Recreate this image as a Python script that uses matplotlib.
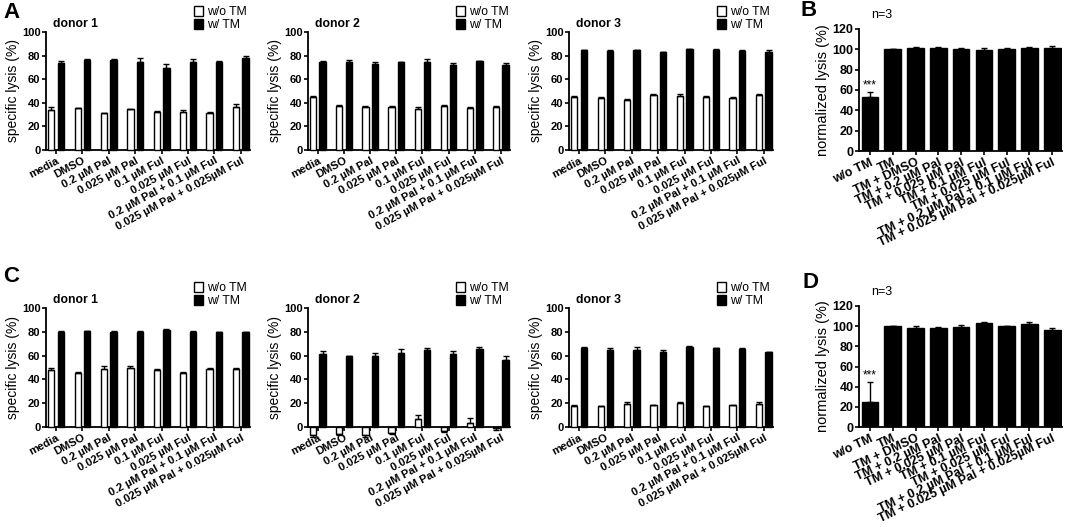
import matplotlib
matplotlib.use("Agg")
import matplotlib.pyplot as plt
import numpy as np

plt.rcParams['font.family'] = ['Liberation Sans', 'DejaVu Sans']

# ---------------- data ----------------
cond_labels = ['media', 'DMSO', '0.2 µM Pal', '0.025 µM Pal', '0.1 µM Ful',
               '0.025 µM Ful', '0.2 µM Pal + 0.1 µM Ful', '0.025 µM Pal + 0.025µM Ful']
norm_labels = ['w/o TM', 'TM', 'TM + DMSO', 'TM + 0.2 µM Pal', 'TM + 0.025 µM Pal',
               'TM + 0.1 µM Ful', 'TM + 0.025 µM Ful', 'TM + 0.2 µM Pal + 0.1 µM Ful',
               'TM + 0.025 µM Pal + 0.025µM Ful']
series_names = ['w/o TM', 'w/ TM']

A1_wo = [33.8, 35.2, 31.0, 34.6, 32.4, 31.8, 31.0, 36.6]
A1_wo_err = [2.5, 0.5, 0.3, 0.3, 0.7, 2.0, 1.0, 2.5]
A1_w = [73.8, 76.0, 76.0, 75.0, 69.3, 75.0, 75.0, 78.0]
A1_w_err = [1.5, 1.5, 1.0, 3.0, 3.5, 2.0, 0.5, 2.0]

A2_wo = [44.5, 37.2, 36.6, 36.6, 34.6, 37.2, 36.0, 36.6]
A2_wo_err = [1.0, 1.0, 0.5, 1.0, 1.5, 1.0, 0.5, 0.5]
A2_w = [74.4, 74.4, 73.2, 74.4, 74.6, 72.4, 75.2, 72.4]
A2_w_err = [1.0, 2.0, 1.0, 0.5, 2.5, 1.5, 0.5, 1.0]

A3_wo = [45.0, 44.2, 42.3, 47.0, 45.9, 45.0, 43.7, 46.2]
A3_wo_err = [1.0, 0.5, 1.0, 0.7, 1.5, 0.5, 1.2, 1.0]
A3_w = [84.5, 84.2, 84.5, 82.8, 85.4, 85.0, 84.2, 83.1]
A3_w_err = [0.5, 0.5, 0.5, 0.5, 0.3, 0.3, 0.3, 1.5]

B_vals = [53.5, 100, 101.5, 101, 100, 99, 100, 101.5, 101]
B_err = [4.5, 0, 1, 1, 1, 2.5, 1, 0.5, 2.5]

C1_wo = [47.6, 45.7, 49.0, 49.6, 48.2, 45.7, 49.0, 48.5]
C1_wo_err = [2.0, 0.3, 2.0, 1.5, 0.7, 0.5, 0.8, 1.5]
C1_w = [79.8, 80.4, 79.8, 79.8, 81.8, 80.1, 79.8, 79.5]
C1_w_err = [0.5, 0.4, 1.0, 1.0, 0.4, 0.4, 0.4, 0.5]

C2_wo = [-7.0, -5.6, -6.5, -5.0, 6.8, -3.0, 3.7, -0.8]
C2_wo_err = [1.5, 1.5, 1.5, 1.0, 3.1, 1.0, 4.2, 1.5]
C2_w = [61.1, 59.7, 60.0, 62.5, 64.5, 61.7, 65.4, 56.6]
C2_w_err = [2.5, 0.3, 2.5, 3.0, 1.5, 2.5, 1.5, 3.0]

C3_wo = [17.7, 17.5, 19.2, 18.3, 20.3, 17.5, 18.3, 19.7]
C3_wo_err = [1.0, 0.5, 1.5, 0.5, 1.0, 0.3, 0.5, 1.0]
C3_w = [66.5, 64.8, 64.8, 63.0, 67.6, 66.2, 65.6, 62.8]
C3_w_err = [0.5, 1.5, 2.5, 2.0, 0.3, 0.5, 1.0, 0.5]

D_vals = [24.8, 100, 98.5, 98.5, 99.5, 103.5, 100.3, 102, 96]
D_err = [20, 0, 1.5, 0.5, 2, 0.7, 0.3, 2.5, 2]

# ---------------- figure ----------------
W, H = 1065, 527
fig = plt.figure(figsize=(W / 100, H / 100), dpi=100)


def add_ax(x0, x1, ytop, ybot):
    return fig.add_axes([x0 / W, 1 - ybot / H, (x1 - x0) / W, (ybot - ytop) / H])


def style(ax, tick_fs):
    for s in ['top', 'right']:
        ax.spines[s].set_visible(False)
    for s in ['left', 'bottom']:
        ax.spines[s].set_linewidth(1.3)
    ax.tick_params(axis='both', direction='out', length=3, width=1.2,
                   labelsize=tick_fs, pad=1)
    for t in ax.get_yticklabels():
        t.set_fontweight('bold')


def err_lohi(vals, errs):
    lo = [e if v < 0 else 0 for v, e in zip(vals, errs)]
    hi = [0 if v < 0 else e for v, e in zip(vals, errs)]
    return [lo, hi]


def donor_panel(x0, x1, ytop, ybot, wo, wo_e, w, w_e, title):
    ax = add_ax(x0, x1, ytop, ybot)
    x = np.arange(len(cond_labels))
    off, bw = 0.18, 0.24
    b1 = ax.bar(x - off, wo, bw, color='white', edgecolor='black', linewidth=1.0,
                yerr=err_lohi(wo, wo_e), capsize=2, clip_on=False,
                error_kw=dict(elinewidth=1.0, capthick=1.0, clip_on=False),
                label=series_names[0], zorder=3)
    b2 = ax.bar(x + off, w, bw, color='black', edgecolor='black', linewidth=1.0,
                yerr=err_lohi(w, w_e), capsize=2, clip_on=False,
                error_kw=dict(elinewidth=1.0, capthick=1.0, clip_on=False),
                label=series_names[1], zorder=3)
    ax.set_xlim(-0.38, 7.35)
    ax.set_ylim(0, 100)
    ax.set_yticks(np.arange(0, 101, 20))
    ax.set_xticks(x)
    ax.set_xticklabels(cond_labels, rotation=28, ha='right', rotation_mode='anchor',
                       fontsize=7.9, fontweight='bold')
    ax.set_ylabel('specific lysis (%)', fontsize=10, labelpad=1.5)
    style(ax, 8)
    fig.text((x0 + 7) / W, 1 - (ytop - 8) / H, title, fontsize=8.8,
             fontweight='bold', va='center', ha='left')
    lx = x0 + 148
    ax.legend(handles=[b1, b2], loc='upper left', frameon=False,
              bbox_to_anchor=(lx / W, 1 - (ytop - 26) / H),
              bbox_transform=fig.transFigure, fontsize=8.8,
              handlelength=0.75, handleheight=0.9, handletextpad=0.35,
              labelspacing=0.05, borderpad=0, borderaxespad=0)
    return ax


def norm_panel(x0, x1, ytop, ybot, vals, errs):
    ax = add_ax(x0, x1, ytop, ybot)
    x = np.arange(len(norm_labels))
    ax.bar(x, vals, 0.73, color='black', edgecolor='black', linewidth=1.0,
           yerr=err_lohi(vals, errs), capsize=2.5,
           error_kw=dict(elinewidth=1.0, capthick=1.0), zorder=3)
    ax.set_xlim(-0.48, 8.43)
    ax.set_ylim(0, 120)
    ax.set_yticks(np.arange(0, 121, 20))
    ax.set_xticks(x)
    ax.set_xticklabels(norm_labels, rotation=25, ha='right', rotation_mode='anchor',
                       fontsize=8.2, fontweight='bold')
    ax.set_ylabel('normalized lysis (%)', fontsize=10.5, labelpad=1.5)
    style(ax, 9)
    ax.text(0, vals[0] + errs[0] + 0.5, '***', ha='center', va='bottom', fontsize=8.5)
    fig.text((x0 + 12) / W, 1 - (ytop - 14) / H, 'n=3', fontsize=9,
             va='center', ha='left')
    return ax


# Panel A
donor_panel(46, 250, 32, 150, A1_wo, A1_wo_err, A1_w, A1_w_err, 'donor 1')
donor_panel(308, 510, 32, 150, A2_wo, A2_wo_err, A2_w, A2_w_err, 'donor 2')
donor_panel(569, 773, 32, 150, A3_wo, A3_wo_err, A3_w, A3_w_err, 'donor 3')
# Panel B
norm_panel(859, 1062, 29, 151, B_vals, B_err)
# Panel C
donor_panel(46, 250, 308, 427, C1_wo, C1_wo_err, C1_w, C1_w_err, 'donor 1')
donor_panel(308, 510, 308, 427, C2_wo, C2_wo_err, C2_w, C2_w_err, 'donor 2')
donor_panel(569, 773, 308, 427, C3_wo, C3_wo_err, C3_w, C3_w_err, 'donor 3')
# Panel D
norm_panel(859, 1062, 306, 427, D_vals, D_err)

# panel letters
for letter, px, py in [('A', 3, 12), ('B', 801, 11), ('C', 3, 277), ('D', 803, 282)]:
    fig.text(px / W, 1 - py / H, letter, fontsize=16, fontweight='bold',
             va='center', ha='left')

fig.savefig('out.png', dpi=100)
